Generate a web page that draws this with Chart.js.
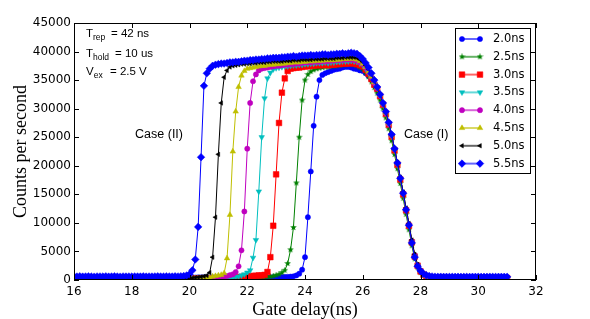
<!DOCTYPE html>
<html>
<head>
<meta charset="utf-8">
<script src="https://cdn.jsdelivr.net/npm/chart.js@4.4.0/dist/chart.umd.min.js"></script>
<style>
  html, body { margin: 0; padding: 0; background: #fff; }
  #wrap { width: 590px; height: 319px; }
</style>
</head>
<body>
<div id="wrap"><canvas id="chart" width="590" height="319"></canvas></div>
<script>
/* Counts per second vs gate delay for eight pulse widths. Values read off the
   reference plot at a 0.1 ns grid. */

const delayNs = [
  16.0,16.1,16.2,16.3,16.4,16.5,16.6,16.7,16.8,16.9,
  17.0,17.1,17.2,17.3,17.4,17.5,17.6,17.7,17.8,17.9,
  18.0,18.1,18.2,18.3,18.4,18.5,18.6,18.7,18.8,18.9,
  19.0,19.1,19.2,19.3,19.4,19.5,19.6,19.7,19.8,19.9,
  20.0,20.1,20.2,20.3,20.4,20.5,20.6,20.7,20.8,20.9,
  21.0,21.1,21.2,21.3,21.4,21.5,21.6,21.7,21.8,21.9,
  22.0,22.1,22.2,22.3,22.4,22.5,22.6,22.7,22.8,22.9,
  23.0,23.1,23.2,23.3,23.4,23.5,23.6,23.7,23.8,23.9,
  24.0,24.1,24.2,24.3,24.4,24.5,24.6,24.7,24.8,24.9,
  25.0,25.1,25.2,25.3,25.4,25.5,25.6,25.7,25.8,25.9,
  26.0,26.1,26.2,26.3,26.4,26.5,26.6,26.7,26.8,26.9,
  27.0,27.1,27.2,27.3,27.4,27.5,27.6,27.7,27.8,27.9,
  28.0,28.1,28.2,28.3,28.4,28.5,28.6,28.7,28.8,28.9,
  29.0,29.1,29.2,29.3,29.4,29.5,29.6,29.7,29.8,29.9,
  30.0,30.1,30.2,30.3,30.4,30.5,30.6,30.7,30.8,30.9,
  31.0
];

const pulseLabels = ["2.0ns", "2.5ns", "3.0ns", "3.5ns", "4.0ns", "4.5ns", "5.0ns", "5.5ns"];

const counts20 = [
  460,450,470,440,450,460,430,450,470,450,
  440,460,450,470,450,440,460,450,430,460,
  450,470,440,450,460,450,470,440,460,450,
  460,440,450,470,450,460,440,450,470,460,
  450,460,440,470,450,460,450,440,460,470,
  450,460,440,450,470,460,450,440,460,450,
  470,450,460,440,450,470,460,480,470,490,
  500,510,530,540,560,590,650,800,1100,1800,
  4000,11000,19000,27000,32100,35000,35900,36200,36400,36600,
  36800,36900,37000,37200,37300,37300,37200,37000,36900,36700,
  36600,36200,35700,35100,34300,33300,32200,30800,29200,27300,
  25200,22800,20300,17700,15100,12300,9600,6700,4200,2500,
  1500,1000,700,550,480,460,450,470,450,440,
  460,450,440,460,450,470,450,440,460,450,
  450,460,440,450,470,450,460,440,450,460,
  450
];

const counts25 = [
  250,260,240,250,270,250,240,260,250,240,
  260,250,240,270,250,260,250,240,260,250,
  240,250,260,250,270,240,250,260,250,240,
  250,260,240,250,260,270,250,240,260,250,
  260,250,270,250,240,260,250,260,270,250,
  260,270,250,260,280,270,260,280,290,280,
  300,310,330,350,380,420,480,540,600,700,
  850,1000,1300,1700,2900,5300,9200,17000,25000,31500,
  35000,36000,36500,36800,37000,37100,37200,37300,37300,37400,
  37500,37500,37600,37700,37700,37800,37800,37700,37500,37200,
  36900,36300,35600,34700,33700,32700,31500,30000,28400,26500,
  24400,22000,19500,16900,14300,11500,8800,6000,3700,2200,
  1300,850,600,450,380,340,320,310,300,310,
  300,290,310,300,290,300,310,300,290,300,
  310,300,290,300,310,300,290,300,310,300,
  300
];

const counts30 = [
  240,250,260,250,240,260,250,270,250,240,
  250,260,250,240,260,250,270,250,240,250,
  260,250,240,250,260,250,240,260,250,270,
  250,240,260,250,250,260,240,250,260,250,
  260,250,240,260,270,250,260,250,240,260,
  260,270,280,290,300,320,400,450,550,600,
  650,700,700,750,800,800,900,1400,4000,9500,
  18500,27500,32800,35300,36600,37000,37100,37200,37200,37300,
  37400,37400,37500,37500,37600,37600,37600,37700,37600,37700,
  37700,37800,37800,37900,37900,37900,38000,37900,37800,37600,
  37400,36800,36100,35200,34200,33500,32200,30700,29100,27200,
  25100,22700,20200,17600,15000,12200,9500,6600,4100,2500,
  1500,950,650,500,420,380,360,350,340,350,
  340,350,330,340,350,340,330,350,340,330,
  340,350,340,330,340,350,340,330,340,350,
  340
];

const counts35 = [
  250,240,260,250,270,250,240,250,260,250,
  240,260,250,250,270,240,250,260,250,240,
  250,260,240,270,250,250,260,240,250,260,
  250,240,250,260,250,240,270,250,260,250,
  250,260,250,240,260,250,270,260,250,260,
  260,270,280,290,300,400,500,600,800,1000,
  1300,1700,3900,7000,15500,25000,31800,35300,36300,36900,
  37100,37200,37300,37400,37400,37500,37600,37600,37700,37700,
  37800,37800,37900,37900,38000,38000,38000,38100,38000,38100,
  38100,38200,38200,38300,38300,38300,38400,38300,38200,37900,
  37600,37000,36300,35400,34400,33600,32300,30800,29200,27300,
  25200,22800,20300,17700,15100,12300,9600,6700,4200,2500,
  1500,950,650,500,420,380,360,350,340,350,
  350,340,350,360,340,350,340,350,360,340,
  350,340,350,340,360,350,340,350,340,350,
  350
];

const counts40 = [
  260,250,240,250,260,270,250,240,260,250,
  250,240,260,250,240,260,270,250,250,240,
  260,250,250,240,260,250,240,270,250,260,
  240,250,260,250,260,240,250,260,250,270,
  260,270,260,280,270,290,300,310,330,350,
  400,500,600,700,850,1000,1400,2400,5200,12000,
  23000,31000,34800,36000,36700,37000,37100,37200,37300,37400,
  37500,37500,37600,37700,37700,37800,37800,37900,37900,38000,
  38100,38100,38100,38200,38200,38200,38300,38300,38300,38400,
  38400,38500,38500,38500,38600,38600,38600,38500,38400,38100,
  37800,37200,36400,35500,34500,33600,32300,30800,29200,27300,
  25300,22900,20400,17800,15200,12400,9700,6800,4300,2600,
  1600,1000,700,520,430,390,370,360,350,360,
  350,360,340,350,360,350,340,360,350,340,
  350,360,350,340,350,360,350,340,350,360,
  350
];

const counts45 = [
  250,260,250,240,250,260,240,250,270,250,
  260,250,240,250,260,250,240,260,250,250,
  240,260,250,270,250,240,250,260,250,240,
  250,250,260,240,250,270,250,260,240,250,
  260,270,280,290,300,320,350,400,600,700,
  800,900,1200,3800,11400,22500,29500,33800,35800,36600,
  37000,37100,37200,37300,37400,37500,37500,37600,37700,37700,
  37800,37800,37900,37900,38000,38000,38100,38100,38100,38200,
  38200,38300,38300,38300,38400,38400,38400,38500,38500,38500,
  38500,38600,38600,38700,38700,38700,38800,38700,38600,38300,
  37900,37300,36500,35600,34600,33700,32400,30900,29300,27400,
  25300,22900,20400,17800,15200,12400,9700,6800,4300,2600,
  1600,1000,700,520,430,390,370,360,350,360,
  360,350,340,350,360,340,350,360,350,340,
  350,340,360,350,340,350,360,350,340,350,
  350
];

const counts50 = [
  240,250,260,250,240,250,260,270,250,240,
  250,260,240,250,270,250,240,250,260,250,
  260,240,250,260,250,240,270,250,250,260,
  250,260,250,240,250,260,250,270,260,280,
  300,350,420,500,550,650,800,1300,4000,11000,
  22000,31000,35500,36700,37300,37500,37600,37700,37800,37800,
  37900,37900,38000,38000,38100,38100,38100,38200,38200,38300,
  38300,38300,38300,38400,38400,38400,38500,38500,38500,38600,
  38600,38600,38600,38700,38700,38700,38700,38800,38800,38800,
  38800,38900,38900,38900,39000,39000,39000,39000,38900,38600,
  38200,37600,36900,36000,34900,33700,32400,30900,29300,27500,
  25400,23000,20600,18000,15400,12600,9900,7000,4500,2700,
  1700,1100,750,550,450,400,380,370,360,370,
  360,370,350,360,370,360,350,370,360,350,
  360,370,360,350,360,370,360,350,360,370,
  360
];

const counts55 = [
  620,600,640,590,610,630,600,580,620,610,
  600,630,590,610,640,600,580,620,600,610,
  590,620,610,600,630,590,610,600,620,640,
  610,600,630,620,600,640,620,650,700,800,
  1000,1700,3600,9300,21500,34000,36200,37000,37500,37700,
  37800,37900,37900,38000,38100,38100,38200,38200,38300,38400,
  38400,38500,38500,38600,38600,38700,38700,38800,38800,38900,
  38900,38900,39000,39000,39100,39100,39200,39100,39200,39300,
  39300,39300,39400,39300,39400,39400,39500,39500,39400,39500,
  39500,39600,39600,39700,39600,39700,39800,39700,39600,39200,
  38700,38000,37200,36200,35000,33800,32500,31000,29500,27600,
  25500,23000,20500,17800,15200,12300,9600,6500,4000,2400,
  1600,1100,850,700,620,580,560,570,550,560,
  540,560,550,570,540,550,560,540,560,550,
  560,540,550,560,570,550,540,560,550,560,
  550
];

const xTicks = [16, 18, 20, 22, 24, 26, 28, 30, 32];
const yTicks = [0, 5000, 10000, 15000, 20000, 25000, 30000, 35000, 40000, 45000];

// five-point filled star for the 2.5 ns series (matplotlib '*')
function starImage(color, size) {
  const c = document.createElement("canvas");
  c.width = size; c.height = size;
  const g = c.getContext("2d");
  const cx = size / 2, cy = size / 2, ro = size / 2, ri = ro * 0.42;
  g.beginPath();
  for (let k = 0; k < 10; k++) {
    const r = k % 2 ? ri : ro;
    const a = -Math.PI / 2 + k * Math.PI / 5;
    g.lineTo(cx + r * Math.cos(a), cy + r * Math.sin(a));
  }
  g.closePath();
  g.fillStyle = color;
  g.fill();
  return c;
}

const styles = [
  { color: "#0000ff", pointStyle: "circle", radius: 2.6, rotation: 0 },
  { color: "#008000", pointStyle: starImage("#008000", 7), radius: 3, rotation: 0 },
  { color: "#ff0000", pointStyle: "rect", radius: 4, rotation: 0 },
  { color: "#00bfbf", pointStyle: "triangle", radius: 3.2, rotation: 180 },
  { color: "#bf00bf", pointStyle: "circle", radius: 2.6, rotation: 0 },
  { color: "#bfbf00", pointStyle: "triangle", radius: 3.2, rotation: 0 },
  { color: "#000000", pointStyle: "triangle", radius: 2.6, rotation: -90 },
  { color: "#0000ff", pointStyle: "rectRot", radius: 3.8, rotation: 0 },
];

const seriesValues = [counts20, counts25, counts30, counts35, counts40, counts45, counts50, counts55];

const datasets = seriesValues.map((vals, i) => ({
  label: pulseLabels[i],
  data: vals,
  borderColor: styles[i].color,
  backgroundColor: styles[i].color,
  borderWidth: 1,
  pointStyle: styles[i].pointStyle,
  pointRadius: styles[i].radius,
  pointRotation: styles[i].rotation,
  pointBackgroundColor: styles[i].color,
  pointBorderColor: styles[i].color,
  pointBorderWidth: 0.5,
  pointHoverRadius: styles[i].radius,
  fill: false,
  tension: 0,
  clip: 0,
  order: seriesValues.length - 1 - i,   // later widths drawn on top
}));

const frameAndTicks = {
  id: "frameAndTicks",
  afterDatasetsDraw(chart) {
    const { ctx, chartArea: a, scales } = chart;
    ctx.save();
    ctx.strokeStyle = "#000";
    ctx.lineWidth = 1;
    ctx.strokeRect(a.left + 0.5, a.top + 0.5, a.right - a.left - 1, a.bottom - a.top - 1);
    ctx.beginPath();
    for (const v of xTicks) {
      const px = Math.round(scales.x.getPixelForValue(v)) + 0.5;
      ctx.moveTo(px, a.bottom); ctx.lineTo(px, a.bottom - 5);
      ctx.moveTo(px, a.top); ctx.lineTo(px, a.top + 5);
    }
    for (const v of yTicks) {
      const py = Math.round(scales.y.getPixelForValue(v)) + 0.5;
      ctx.moveTo(a.left, py); ctx.lineTo(a.left + 5, py);
      ctx.moveTo(a.right, py); ctx.lineTo(a.right - 5, py);
    }
    ctx.stroke();
    ctx.restore();
  },
};

const notes = {
  id: "notes",
  afterDraw(chart) {
    const ctx = chart.ctx;
    ctx.save();
    ctx.fillStyle = "#000";
    ctx.textBaseline = "alphabetic";
    const big = "11.5px 'Liberation Sans', Arial, sans-serif";
    const small = "8.5px 'Liberation Sans', Arial, sans-serif";
    const rows = [
      { main: "T", sub: "rep", rest: "= 42 ns", y: 37, restX: 111 },
      { main: "T", sub: "hold", rest: "= 10 us", y: 57, restX: 115 },
      { main: "V", sub: "ex", rest: "= 2.5 V", y: 75, restX: 110 },
    ];
    for (const r of rows) {
      ctx.font = big;
      ctx.textAlign = "left";
      ctx.fillText(r.main, 86, r.y);
      const w = ctx.measureText(r.main).width;
      ctx.font = small;
      ctx.fillText(r.sub, 86 + w, r.y + 3);
      ctx.font = big;
      ctx.fillText(r.rest, r.restX, r.y);
    }
    ctx.font = "12.5px 'Liberation Sans', Arial, sans-serif";
    ctx.textBaseline = "middle";
    ctx.textAlign = "right";
    ctx.fillText("Case (II)", 183, 135);
    ctx.textAlign = "left";
    ctx.fillText("Case (I)", 404, 135);
    ctx.restore();
  },
};

const boxLegend = {
  id: "boxLegend",
  afterDraw(chart) {
    const ctx = chart.ctx;
    const x0 = 455, y0 = 28, w = 75, h = 145;
    ctx.save();
    ctx.fillStyle = "#fff";
    ctx.fillRect(x0, y0, w, h);
    ctx.strokeStyle = "#000";
    ctx.lineWidth = 1;
    ctx.strokeRect(x0 + 0.5, y0 + 0.5, w, h);
    chart.data.datasets.forEach((ds, i) => {
      const y = 39 + i * 17.8;
      ctx.save();
      ctx.globalAlpha = 0.6;
      ctx.strokeStyle = ds.borderColor;
      ctx.lineWidth = 2;
      ctx.beginPath();
      ctx.moveTo(462, y); ctx.lineTo(480, y);
      ctx.stroke();
      ctx.restore();
      ctx.fillStyle = ds.pointBackgroundColor;
      ctx.strokeStyle = ds.pointBorderColor;
      ctx.lineWidth = 0.5;
      const opts = { pointStyle: ds.pointStyle, radius: ds.pointRadius, rotation: ds.pointRotation, borderWidth: 0.5 };
      Chart.helpers.drawPoint(ctx, opts, 462, y);
      Chart.helpers.drawPoint(ctx, opts, 480, y);
      ctx.fillStyle = "#000";
      ctx.font = "11.5px 'DejaVu Sans', sans-serif";
      ctx.textAlign = "left";
      ctx.textBaseline = "middle";
      ctx.fillText(ds.label, 493, y);
    });
    ctx.restore();
  },
};

Chart.defaults.color = "#000";

new Chart(document.getElementById("chart"), {
  type: "line",
  data: { labels: delayNs, datasets },
  options: {
    responsive: false,
    animation: false,
    devicePixelRatio: 1,
    layout: { padding: { left: 0, top: 23, right: 54, bottom: 0 } },
    plugins: { legend: { display: false }, tooltip: { enabled: false } },
    scales: {
      x: {
        type: "linear",
        min: 16, max: 32,
        afterBuildTicks: s => { s.ticks = xTicks.map(v => ({ value: v })); },
        afterFit: s => { s.height = 39; },
        grid: { display: false, drawTicks: false },
        border: { display: false },
        ticks: {
          padding: 5, maxRotation: 0,
          font: { family: "'DejaVu Sans', sans-serif", size: 12 },
          callback: v => String(v),
        },
        title: {
          display: true, text: "Gate delay(ns)",
          font: { family: "'Liberation Serif', 'Times New Roman', serif", size: 18, lineHeight: 1 },
          padding: { top: 0, bottom: 0 },
        },
      },
      y: {
        min: 0, max: 45000,
        afterBuildTicks: s => { s.ticks = yTicks.map(v => ({ value: v })); },
        afterFit: s => { s.width = 74; },
        grid: { display: false, drawTicks: false },
        border: { display: false },
        ticks: {
          padding: 3,
          font: { family: "'DejaVu Sans', sans-serif", size: 12 },
          callback: v => String(v),
        },
        title: {
          display: true, text: "Counts per second",
          font: { family: "'Liberation Serif', 'Times New Roman', serif", size: 18, lineHeight: 1 },
          padding: { top: 12, bottom: 0 },
        },
      },
    },
  },
  plugins: [frameAndTicks, notes, boxLegend],
});
</script>
</body>
</html>
